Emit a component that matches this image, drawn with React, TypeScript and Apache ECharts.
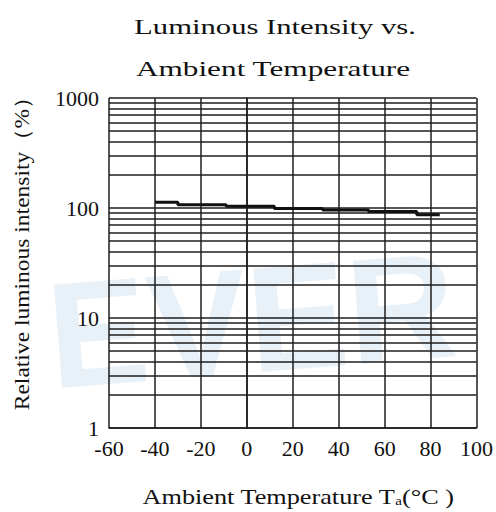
import React, { useEffect, useRef } from "react";
import * as echarts from "echarts";

const titleLines = ["Luminous Intensity vs.", "Ambient Temperature"];
const xAxisName = "Ambient Temperature T{sub|a}(°C )";
const yAxisName = "Relative luminous intensity（%）";
const temperatures = [-40, -30, -9, 12, 33, 53, 74, 84];
const intensity = [113, 107, 104, 99, 96, 93, 87, 87];
const minorGridValues = [
  2, 3, 4, 5, 6, 7, 8, 9,
  20, 30, 40, 50, 60, 70, 80, 90,
  200, 300, 400, 500, 600, 700, 800, 900,
];
const xMin = -60;
const xMax = 100;
const xStep = 20;
const yMin = 1;
const yMax = 1000;

const FONT = "Liberation Serif";

export default function App() {
  const ref = useRef<HTMLDivElement>(null);
  useEffect(() => {
    if (!ref.current) return;
    const chart = echarts.init(ref.current, null, { renderer: "svg" });
    const gridColor = "#1e1e1e";
    chart.setOption({
      animation: false,
      backgroundColor: "#ffffff",
      grid: { left: 109, right: 16, top: 98, bottom: 84 },
      graphic: [
        {
          type: "text",
          z: -10,
          silent: true,
          x: 42,
          y: 262,
          rotation: 0.08,
          style: {
            text: "EVER",
            font: "bold 150px Liberation Sans",
            fill: "#e8f0f8",
          },
        },
        {
          type: "text",
          x: 275,
          y: 27,
          scaleX: 1.46,
          style: {
            text: titleLines[0],
            font: "21px Liberation Serif",
            fill: "#111",
            align: "center",
            verticalAlign: "middle",
          },
        },
        {
          type: "text",
          x: 273,
          y: 69,
          scaleX: 1.49,
          style: {
            text: titleLines[1],
            font: "21px Liberation Serif",
            fill: "#111",
            align: "center",
            verticalAlign: "middle",
          },
        },
        {
          type: "text",
          x: 298,
          y: 497,
          scaleX: 1.25,
          style: {
            text: xAxisName,
            font: "21px Liberation Serif",
            fill: "#111",
            align: "center",
            verticalAlign: "middle",
            rich: {
              sub: { font: "12px Liberation Serif", fill: "#111", padding: [9, 0, 0, 0] },
            },
          },
        },
        {
          type: "text",
          x: 22,
          y: 248,
          rotation: Math.PI / 2,
          scaleX: 1.12,
          style: {
            text: yAxisName,
            font: "21px Liberation Serif",
            fill: "#111",
            align: "center",
            verticalAlign: "middle",
          },
        },
      ],
      xAxis: {
        type: "value",
        min: xMin,
        max: xMax,
        interval: xStep,
        axisLine: { show: true, lineStyle: { color: gridColor, width: 1.5 } },
        axisTick: { show: false },
        axisLabel: { fontFamily: FONT, fontSize: 22, color: "#111", margin: 9 },
        splitLine: { show: true, lineStyle: { color: gridColor, width: 1.5 } },
      },
      yAxis: {
        type: "log",
        logBase: 10,
        min: yMin,
        max: yMax,
        axisLine: { show: true, lineStyle: { color: gridColor, width: 1.5 } },
        axisTick: { show: false },
        axisLabel: {
          fontFamily: FONT,
          fontSize: 22,
          color: "#111",
          margin: 10,
          formatter: (v: number) => String(v),
        },
        splitLine: { show: true, lineStyle: { color: gridColor, width: 1.5 } },
      },
      series: [
        {
          type: "line",
          data: [],
          z: 1,
          silent: true,
          markLine: {
            silent: true,
            symbol: "none",
            label: { show: false },
            lineStyle: { color: gridColor, width: 1.5, type: "solid" },
            data: minorGridValues.map((v) => ({ yAxis: v })),
          },
        },
        {
          type: "line",
          step: "end",
          z: 5,
          showSymbol: false,
          data: temperatures.map((t, i) => [t, intensity[i]]),
          lineStyle: { color: "#111", width: 3 },
        },
      ],
    });
    return () => chart.dispose();
  }, []);
  return (
    <div
      ref={ref}
      style={{ position: "fixed", left: 0, top: 0, width: 496, height: 512 }}
    />
  );
}
